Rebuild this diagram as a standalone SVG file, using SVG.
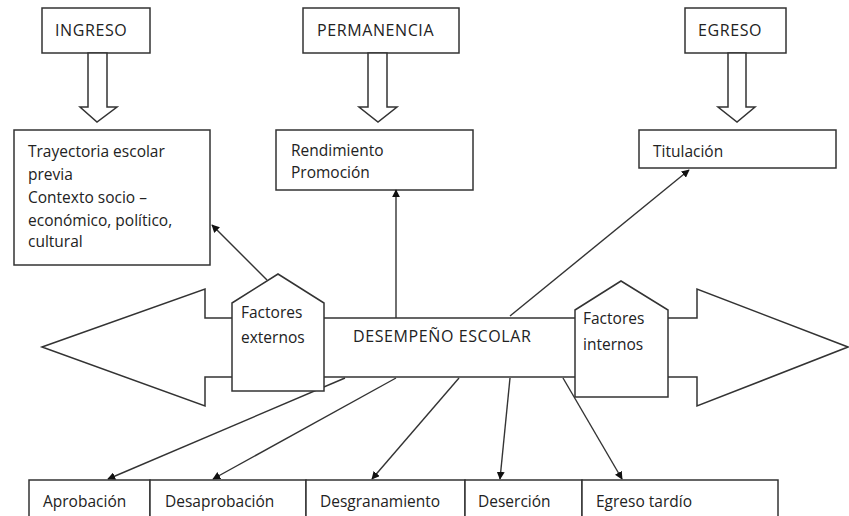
<svg xmlns="http://www.w3.org/2000/svg" width="849" height="516" viewBox="0 0 849 516">
<defs>
<style>
.b{fill:#fff;stroke:#333;stroke-width:1.5}
.t{font-family:"Open Sans","Liberation Sans",sans-serif;font-size:15.5px;fill:#222}
.u{font-family:"Open Sans","Liberation Sans",sans-serif;font-size:16px;letter-spacing:0.6px;fill:#222}
.c{fill:none;stroke:#333;stroke-width:1.4}
</style>
<marker id="ah" viewBox="0 0 10 10" refX="9" refY="5" markerWidth="8" markerHeight="8" orient="auto" markerUnits="userSpaceOnUse"><path d="M0,0 L10,5 L0,10 z" fill="#111"/></marker>
</defs>
<rect width="849" height="516" fill="#fff"/>
<g id="ingreso"><rect class="b" x="42" y="8" width="108" height="45"/><text class="u" x="55" y="36">INGRESO</text></g>
<g id="permanencia"><rect class="b" x="303" y="8" width="156" height="45"/><text class="u" x="317" y="36">PERMANENCIA</text></g>
<g id="egreso"><rect class="b" x="685" y="8" width="101" height="45"/><text class="u" x="698" y="36">EGRESO</text></g>
<g id="hollow-arrows">
<polygon class="b" points="88,53 107,53 107,107 117,107 97,122 80,107 88,107"/>
<polygon class="b" points="368,53 387,53 387,107 397,107 378,122 359,107 368,107"/>
<polygon class="b" points="728,53 746,53 746,107 755,107 737,122 718,107 728,107"/>
</g>
<g id="trayectoria"><rect class="b" x="14" y="130" width="196" height="135"/>
<text class="t" x="28" y="157">Trayectoria escolar</text>
<text class="t" x="28" y="180">previa</text>
<text class="t" x="28" y="203">Contexto socio –</text>
<text class="t" x="28" y="226">económico, político,</text>
<text class="t" x="28" y="247">cultural</text></g>
<g id="rendimiento"><rect class="b" x="276" y="130" width="197" height="60"/>
<text class="t" x="291" y="156">Rendimiento</text>
<text class="t" x="291" y="178">Promoción</text></g>
<g id="titulacion"><rect class="b" x="639" y="130" width="197" height="38"/>
<text class="t" x="653" y="157">Titulación</text></g>
<g id="desempeno"><polygon class="b" points="42,347 205,289 205,318 697,318 697,289 848,347 697,406 697,377 205,377 205,406"/>
<text class="u" x="353" y="342">DESEMPEÑO ESCOLAR</text></g>
<g id="connectors">
<line class="c" x1="267" y1="280" x2="212" y2="225" marker-end="url(#ah)"/>
<line class="c" x1="396" y1="318" x2="396" y2="190" marker-end="url(#ah)"/>
<line class="c" x1="510" y1="316" x2="689" y2="170" marker-end="url(#ah)"/>
<line class="c" x1="345" y1="378" x2="108" y2="479" marker-end="url(#ah)"/>
<line class="c" x1="396" y1="378" x2="213" y2="479" marker-end="url(#ah)"/>
<line class="c" x1="459" y1="378" x2="372" y2="479" marker-end="url(#ah)"/>
<line class="c" x1="510" y1="378" x2="500" y2="479" marker-end="url(#ah)"/>
<line class="c" x1="563" y1="378" x2="622" y2="479" marker-end="url(#ah)"/>
</g>
<g id="factores-externos"><polygon class="b" points="232,303 278,274 324,303 324,391 232,391"/>
<text class="t" x="241" y="318">Factores</text><text class="t" x="241" y="343">externos</text></g>
<g id="factores-internos"><polygon class="b" points="575,310 621,281 668,310 668,397 575,397"/>
<text class="t" x="583" y="324">Factores</text><text class="t" x="583" y="350">internos</text></g>
<g id="resultados">
<rect class="b" x="29" y="480" width="121" height="45"/><text class="t" x="43" y="507">Aprobación</text>
<rect class="b" x="150" y="480" width="156" height="45"/><text class="t" x="165" y="507">Desaprobación</text>
<rect class="b" x="306" y="480" width="159" height="45"/><text class="t" x="320" y="507">Desgranamiento</text>
<rect class="b" x="465" y="480" width="117" height="45"/><text class="t" x="478" y="507">Deserción</text>
<rect class="b" x="582" y="480" width="196" height="45"/><text class="t" x="596" y="507">Egreso tardío</text>
</g>
</svg>
